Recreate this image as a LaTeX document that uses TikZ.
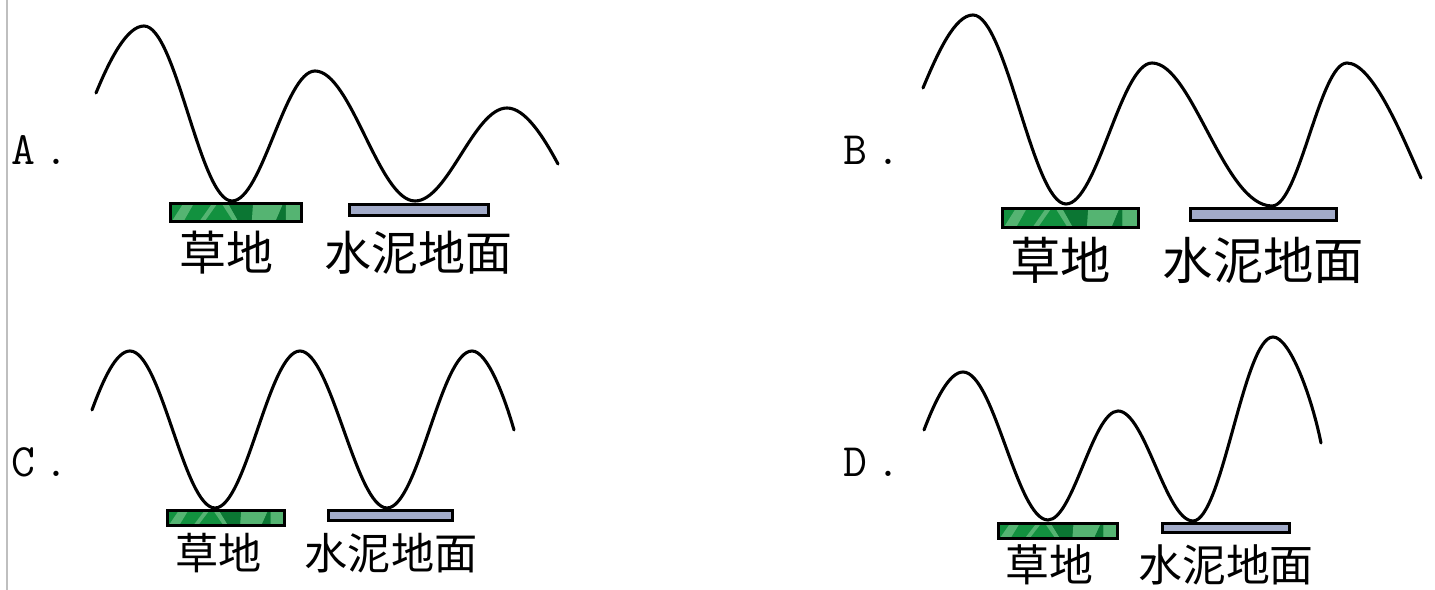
\documentclass[tikz,border=0pt]{standalone}
\usepackage{fontspec}
\usepackage{tikz}
\usetikzlibrary{calc}
\newfontfamily\cjk{Noto Sans CJK SC}
\newcommand{\pxu}{0.25mm}
\definecolor{grassgreen}{HTML}{12913F}
\definecolor{grasslight}{HTML}{55B472}
\definecolor{grassdark}{HTML}{0B7633}
\definecolor{cementgray}{HTML}{A2ABC9}

\begin{document}
\begin{tikzpicture}[x=0.25mm,y=0.25mm,
  wave/.style={line width=2.2pt,line cap=round},
  opt/.style={font=\ttfamily\fontsize{33}{33}\selectfont,anchor=base west,inner sep=0pt},
  lbl/.style={font=\cjk\fontsize{#1}{#1}\selectfont,inner sep=0pt},
  bar/.style 2 args={rectangle,draw,line width=1.8pt,inner sep=0pt,
    minimum width={#1*\pxu},minimum height={#2*\pxu}},
  cementbar/.style 2 args={bar={#1}{#2},fill=cementgray},
  grassbar/.style 2 args={bar={#1}{#2},fill=grassgreen,
    path picture={
      \path (path picture bounding box.south west) coordinate (gsw)
            (path picture bounding box.south east) coordinate (gse)
            (path picture bounding box.north west) coordinate (gnw)
            (path picture bounding box.north east) coordinate (gne);
      \fill[grasslight] ($(gsw)!.01!(gse)$) -- ($(gsw)!.10!(gse)$) -- ($(gnw)!.18!(gne)$) -- ($(gnw)!.10!(gne)$) -- cycle;
      \fill[grasslight] ($(gsw)!.22!(gse)$) -- ($(gsw)!.26!(gse)$) -- ($(gnw)!.36!(gne)$) -- ($(gnw)!.32!(gne)$) -- cycle;
      \fill[grasslight] ($(gsw)!.48!(gse)$) -- ($(gsw)!.52!(gse)$) -- ($(gnw)!.44!(gne)$) -- ($(gnw)!.39!(gne)$) -- cycle;
      \fill[grassdark] ($(gsw)!.52!(gse)$) -- ($(gsw)!.62!(gse)$) -- ($(gnw)!.63!(gne)$) -- ($(gnw)!.44!(gne)$) -- cycle;
      \fill[grasslight] ($(gsw)!.62!(gse)$) -- ($(gsw)!.80!(gse)$) -- ($(gnw)!.86!(gne)$) -- ($(gnw)!.70!(gne)$) -- ($(gnw)!.63!(gne)$) -- cycle;
      \fill[grassdark] ($(gsw)!.80!(gse)$) -- ($(gsw)!.88!(gse)$) -- ($(gnw)!.88!(gne)$) -- ($(gnw)!.86!(gne)$) -- cycle;
      \fill[grasslight] ($(gsw)!.88!(gse)$) -- ($(gse)$) -- ($(gne)$) -- ($(gnw)!.88!(gne)$) -- cycle;
    }}]
\useasboundingbox (0,0) rectangle (1435,590);
\draw[black!25,line width=1.5pt] (7,590) -- (7,0);

\node[opt] (optA) at (11,425) {A\hspace{0.2em}.};
\node[opt] (optB) at (843,425) {B\hspace{0.2em}.};
\node[opt] (optC) at (11,113) {C\hspace{0.2em}.};
\node[opt] (optD) at (843,113) {D\hspace{0.2em}.};

\node[grassbar={131.5}{18.5}] (grassA) at (236,377.5) {};
\node[cementbar={139.5}{11.5}] (cementA) at (419,380) {};
\node[grassbar={136.5}{19.5}] (grassB) at (1070.5,372) {};
\node[cementbar={146.5}{12.5}] (cementB) at (1263.5,375.5) {};
\node[grassbar={117.5}{15.5}] (grassC) at (226,72) {};
\node[cementbar={124.5}{10.5}] (cementC) at (390.5,74.5) {};
\node[grassbar={119.5}{15.5}] (grassD) at (1058,59) {};
\node[cementbar={127.5}{9.5}] (cementD) at (1226,62) {};

\node[lbl=33.4] (grassTextA) at (226,337.5) {草地};
\node[lbl=33.4] (cementTextA) at (418.5,337.5) {水泥地面};
\node[lbl=35.8] (grassTextB) at (1060.5,330) {草地};
\node[lbl=35.8] (cementTextB) at (1263.5,330) {水泥地面};
\node[lbl=30.7] (grassTextC) at (218.5,37) {草地};
\node[lbl=30.7] (cementTextC) at (391,37) {水泥地面};
\node[lbl=31.2] (grassTextD) at (1049.5,25) {草地};
\node[lbl=31.2] (cementTextD) at (1226,25) {水泥地面};

\draw[wave] (96,497) .. controls +(14,34) and +(-17,0) .. (144,564)
  .. controls +(32,0) and +(-32,0) .. (232,389)
  .. controls +(30,0) and +(-30,0) .. (315,519)
  .. controls +(36,0) and +(-36,0) .. (415,389)
  .. controls +(33,0) and +(-33,0) .. (507,482)
  .. controls +(18,0) and +(-15,28) .. (558,426);
\draw[wave] (923,502) .. controls +(15,36) and +(-18,0) .. (973,575)
  .. controls +(33,0) and +(-33,0) .. (1066,386)
  .. controls +(31,0) and +(-31,0) .. (1152,527)
  .. controls +(40,0) and +(-48,0) .. (1272,384)
  .. controls +(27,0) and +(-27,0) .. (1347,527)
  .. controls +(26,0) and +(-18,40) .. (1421,412);
\draw[wave] (92,180) .. controls +(11,30) and +(-14,0) .. (130,239)
  .. controls +(31,0) and +(-31,0) .. (215,82)
  .. controls +(31,0) and +(-31,0) .. (300,239)
  .. controls +(31,0) and +(-31,0) .. (387,82)
  .. controls +(31,0) and +(-31,0) .. (472,239)
  .. controls +(15,0) and +(-10,35) .. (514,160);
\draw[wave] (924,160) .. controls +(11,29) and +(-14,0) .. (963,218)
  .. controls +(31,0) and +(-31,0) .. (1048,70)
  .. controls +(25,0) and +(-25,0) .. (1118,179)
  .. controls +(27,0) and +(-27,0) .. (1193,69)
  .. controls +(29,0) and +(-29,0) .. (1273,253)
  .. controls +(17,0) and +(-9,45) .. (1321,147);
\end{tikzpicture}
\end{document}
